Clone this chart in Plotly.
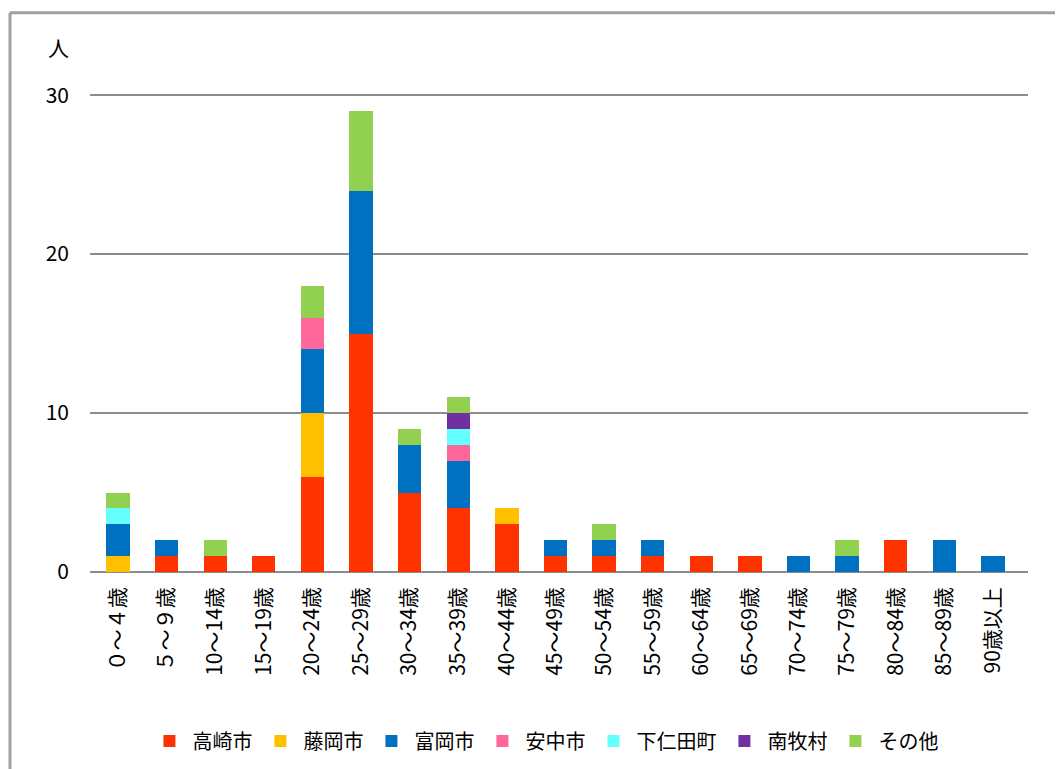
import plotly.graph_objects as go

categories = ["０～４歳", "５～９歳", "10～14歳", "15～19歳", "20～24歳", "25～29歳",
              "30～34歳", "35～39歳", "40～44歳", "45～49歳", "50～54歳", "55～59歳",
              "60～64歳", "65～69歳", "70～74歳", "75～79歳", "80～84歳", "85～89歳", "90歳以上"]

takasaki   = [0, 1, 1, 1, 6, 15, 5, 4, 3, 1, 1, 1, 1, 1, 0, 0, 2, 0, 0]
fujioka    = [1, 0, 0, 0, 4, 0, 0, 0, 1, 0, 0, 0, 0, 0, 0, 0, 0, 0, 0]
tomioka    = [2, 1, 0, 0, 4, 9, 3, 3, 0, 1, 1, 1, 0, 0, 1, 1, 0, 2, 1]
annaka     = [0, 0, 0, 0, 2, 0, 0, 1, 0, 0, 0, 0, 0, 0, 0, 0, 0, 0, 0]
shimonita  = [1, 0, 0, 0, 0, 0, 0, 1, 0, 0, 0, 0, 0, 0, 0, 0, 0, 0, 0]
nanmoku    = [0, 0, 0, 0, 0, 0, 0, 1, 0, 0, 0, 0, 0, 0, 0, 0, 0, 0, 0]
sonota     = [1, 0, 1, 0, 2, 5, 1, 1, 0, 0, 1, 0, 0, 0, 0, 1, 0, 0, 0]

series = [
    ("高崎市", takasaki, "#FF3300"),
    ("藤岡市", fujioka, "#FFC000"),
    ("富岡市", tomioka, "#0070C0"),
    ("安中市", annaka, "#FF6699"),
    ("下仁田町", shimonita, "#66FFFF"),
    ("南牧村", nanmoku, "#7030A0"),
    ("その他", sonota, "#92D050"),
]

font = "Noto Sans CJK JP"
fig = go.Figure()
for name, vals, color in series:
    fig.add_trace(go.Bar(x=list(range(len(categories))), y=vals, name=name,
                         marker=dict(color=color, line=dict(width=0))))

fig.update_layout(
    barmode="stack",
    bargap=0.52,
    width=1055, height=761,
    paper_bgcolor="white", plot_bgcolor="white",
    margin=dict(l=82, r=35, t=84, b=197, autoexpand=False),
    font=dict(family=font, size=16, color="black"),
    showlegend=True,
    legend=dict(orientation="h", x=0.485, xanchor="center", y=-0.352, yanchor="middle",
                font=dict(size=20, family=font), itemwidth=36, traceorder="normal"),
    xaxis=dict(tickmode="array", tickvals=list(range(len(categories))), ticktext=categories,
               range=[-0.576, 18.721],
               tickangle=-90, showgrid=False, showline=False, ticks="", zeroline=False,
               tickfont=dict(size=21, family=font), ticklabelstandoff=10, fixedrange=True),
    yaxis=dict(range=[0, 30.2], tickvals=[0, 10, 20, 30], showgrid=True,
               gridcolor="#8c8c8c", gridwidth=1.5, zeroline=True, zerolinecolor="#8c8c8c",
               zerolinewidth=1.5, showline=False, ticks="",
               tickfont=dict(size=21, family=font), ticklabelstandoff=20),
    annotations=[dict(text="人", x=-0.034, y=1.094, xref="paper", yref="paper",
                      xanchor="center", yanchor="middle",
                      showarrow=False, font=dict(size=21, family=font))],
    shapes=[
        dict(type="line", xref="paper", yref="paper", x0=-0.0853, x1=1.05, y0=1.165, y1=1.165,
             line=dict(color="#a0a0a0", width=3)),
        dict(type="line", xref="paper", yref="paper", x0=-0.0853, x1=-0.0853, y0=1.165, y1=-0.42,
             line=dict(color="#a0a0a0", width=3)),
    ],
)

fig.write_html("out.html")
